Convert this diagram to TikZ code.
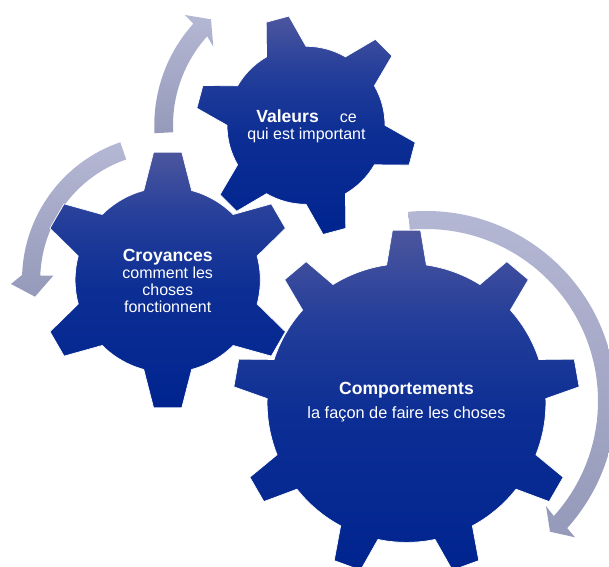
\documentclass[tikz,border=0pt]{standalone}
\usepackage{fontspec}
\usetikzlibrary{calc}
\setmainfont{Liberation Sans}
\definecolor{geartop}{RGB}{76,86,158}
\definecolor{gearup}{RGB}{36,62,154}
\definecolor{gearmid}{RGB}{12,46,148}
\definecolor{gearbot}{RGB}{0,36,143}
\definecolor{bandtop}{RGB}{180,184,212}
\definecolor{bandbot}{RGB}{150,154,186}
\pgfdeclareverticalshading{gearshade}{100bp}{color(0bp)=(gearbot); color(25bp)=(gearbot); color(48bp)=(gearmid); color(62bp)=(gearup); color(75bp)=(geartop); color(100bp)=(geartop)}
\tikzset{
  gearshape/.style={draw=white,line width=0.4pt,shading=gearshade,shading angle=0},
  bandshape/.style={top color=bandtop,bottom color=bandbot},
  gearlabel/.style={text=white,align=center,inner sep=0pt,font=\fontsize{9.1pt}{9.8pt}\selectfont},
}
\newcommand{\headfont}{\fontsize{10pt}{9.8pt}\selectfont\bfseries}
% #1 cx, #2 cy, #3 root radius, #4 tip radius, #5 first tooth angle, #6 step, #7 last index, #8 half base, #9 half tip
\newcommand{\cogwheel}[9]{%
  \begin{scope}[shift={(#1,#2)}]
    \path[gearshape] ({#5+#8}:#3)
      \foreach \k in {0,...,#7} {
        -- ({#5-\k*#6+#9}:#4) -- ({#5-\k*#6-#9}:#4) -- ({#5-\k*#6-#8}:#3)
        arc[start angle={#5-\k*#6-#8},end angle={#5-(\k+1)*#6+#8},radius=#3]
      } -- cycle;
  \end{scope}}
\begin{document}
\begin{tikzpicture}[x=0.02cm,y=0.02cm]
  \useasboundingbox (0,0) rectangle (609,567);
  \clip (0,0) rectangle (609,567);
  % curved arrows
  \path[bandshape] ($(306,441.7)+(183:151.7)$) arc[start angle=183,end angle=138,radius=151.7]
    -- (185,552) -- (211,547.7) -- (213.3,520.3) -- ($(306,441.7)+(138:133)$)
    arc[start angle=138,end angle=183,radius=133] -- cycle;
  \path[bandshape] ($(167.7,287)+(109:145.7)$) arc[start angle=109,end angle=178,radius=145.7]
    -- (11,283) -- (35,270.3) -- (53.3,291.3) -- ($(167.7,287)+(178:127.5)$)
    arc[start angle=178,end angle=109,radius=127.5] -- cycle;
  \path[bandshape] ($(426,166)+(95.4:190)$) arc[start angle=95.4,end angle=-42,radius=190]
    -- (575,29.7) -- (550,35.3) -- (546,61) -- ($(426,166)+(-42:172)$)
    arc[start angle=-42,end angle=95.4,radius=172] -- cycle;
  % gears
  \cogwheel{306}{441.7}{79}{110.5}{105}{60}{5}{15}{6.1}
  \cogwheel{167.7}{287}{92.6}{128.6}{90}{60}{5}{15}{6.3}
  \cogwheel{406.5}{164}{139.4}{173.4}{90}{40}{8}{8.2}{4.65}
  % labels
  \node[gearlabel] (valeurs) at (306.5,440.5) {{\headfont Valeurs}\hspace{12pt}ce\\qui est important};
  \node[gearlabel] (croyances) at (167.7,286) {{\headfont Croyances}\\comment les\\choses\\fonctionnent};
  \node[gearlabel,font=\fontsize{9.3pt}{13.5pt}\selectfont] (comportements) at (406.5,165) {{\headfont Comportements}\\la façon de faire les choses};
\end{tikzpicture}
\end{document}
